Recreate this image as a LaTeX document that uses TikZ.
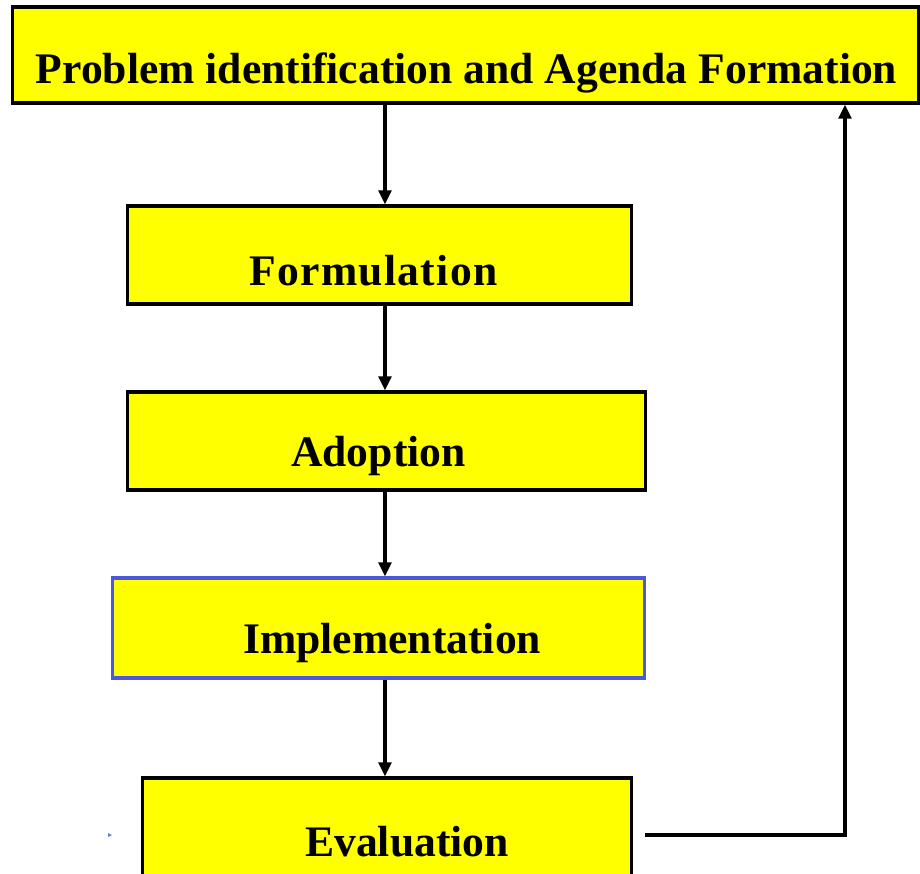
\documentclass[tikz,border=0pt]{standalone}
\usepackage{fontspec}
\setmainfont{Liberation Serif}
\usetikzlibrary{arrows.meta, positioning}
\definecolor{boxyellow}{RGB}{255,255,0}
\definecolor{implblue}{RGB}{74,88,220}

\begin{document}
\begin{tikzpicture}[x=0.025cm,y=-0.025cm,
    stage/.style={draw=black,fill=boxyellow,line width=2.2pt,inner sep=0pt},
    stagetext/.style={font=\fontsize{31}{36}\selectfont\bfseries,inner sep=0pt,yshift=-0.38cm},
    flow/.style={-{Triangle[length=10pt,width=9pt]},line width=2.4pt}]
    \useasboundingbox (0,0) rectangle (920,874);
    % stages
    \node[stage,minimum width=22.625cm,minimum height=2.4cm,
        label={[stagetext,xshift=0.025cm,yshift=-0.08cm]center:Problem identification and Agenda Formation}] (agenda) at (465.5,55) {};
    \node[stage,minimum width=12.575cm,minimum height=2.45cm,
        label={[stagetext,xshift=-0.15cm]center:{\addfontfeature{LetterSpace=3}Formulation}}] (form) at (379.5,255) {};
    \node[stage,minimum width=12.925cm,minimum height=2.45cm,
        label={[stagetext,xshift=-0.2cm]center:Adoption}] (adopt) at (386.5,441) {};
    \node[stage,draw=implblue,minimum width=13.275cm,minimum height=2.5cm,
        label={[stagetext,xshift=0.34cm]center:Implementation}] (impl) at (378.5,628) {};
    \node[stage,minimum width=12.2cm,minimum height=2.5cm,
        label={[stagetext,xshift=0.5cm,yshift=0.05cm]center:Evaluation}] (eval) at (387,828) {};
    % connectors
    \coordinate (spine) at (385,0);
    \draw[flow] (agenda.south -| spine) -- (form.north -| spine);
    \draw[flow] (form.south -| spine) -- (adopt.north -| spine);
    \draw[flow] (adopt.south -| spine) -- (impl.north -| spine);
    \draw[flow] (impl.south -| spine) -- (eval.north -| spine);
    \coordinate (back) at (645,835);
    \coordinate (turn) at (845,835);
    \draw[flow] (back) -- (turn) -- (turn |- agenda.south);
    % stray marker
    \fill[implblue!80] (108,833) -- (112,835) -- (108,837) -- cycle;
\end{tikzpicture}
\end{document}
